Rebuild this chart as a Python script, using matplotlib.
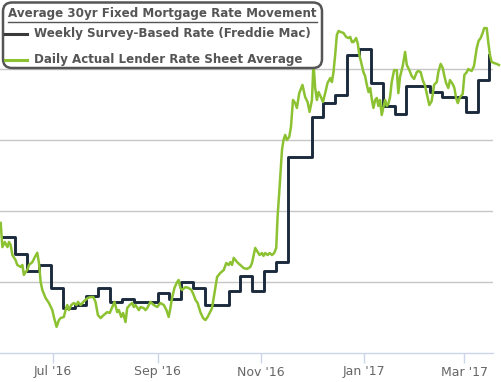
import numpy as np
import pandas as pd
import matplotlib
matplotlib.use("Agg")
import matplotlib.pyplot as plt
from matplotlib.patches import FancyBboxPatch
from matplotlib.lines import Line2D
from matplotlib.transforms import IdentityTransform

# weekly Freddie Mac survey rate (Thursdays)
weekly_start = "2016-06-02"
weekly_rate = [3.66, 3.60, 3.54, 3.56, 3.48, 3.41, 3.42, 3.45, 3.48, 3.43,
               3.44, 3.43, 3.43, 3.46, 3.44, 3.50, 3.48, 3.42, 3.42, 3.47,
               3.52, 3.47, 3.54, 3.57, 3.94, 3.94, 4.08, 4.13, 4.16, 4.30,
               4.32, 4.20, 4.12, 4.09, 4.19, 4.19, 4.17, 4.15, 4.15, 4.10,
               4.21, 4.30]

# daily lender rate sheet average: days after 2016-05-31, and rate
daily_origin = "2016-05-31"
daily_day = [0.4, 1.4, 2.8, 4.4, 5.3, 6.3, 7.3, 9.2, 10.2, 12.2,
             13.2, 14.1, 15.1, 16.1, 17.1, 19.1, 20.6, 22.0, 23.0, 24.0,
             25.0, 26.9, 28.9, 30.9, 31.8, 33.4, 34.8, 35.8, 37.7, 38.7,
             39.7, 40.7, 42.1, 43.6, 45.2, 46.0, 47.6, 49.2, 50.5, 51.9,
             53.5, 55.1, 56.4, 57.8, 59.4, 61.3, 63.3, 64.8, 66.3, 67.6,
             69.2, 70.2, 71.6, 72.7, 74.1,
             75.1, 76.6, 78.0, 79.0, 80.0, 82.0, 83.0, 84.9, 85.9, 86.9,
             88.8, 90.8, 92.8, 94.7, 96.7, 98.3, 99.6, 100.6, 101.6, 103.0,
             104.6, 105.5, 106.5, 107.5, 109.5, 111.4, 113.0, 114.4, 115.4, 116.7,
             118.3, 119.9, 121.3, 122.6, 123.8, 125.2, 126.2, 127.2, 128.2, 130.1,
             132.1, 133.6, 135.0, 136.0, 137.0, 138.0, 140.0, 141.9, 143.9, 145.9,
             147.8,
             148.8, 150.7, 152.1, 153.3, 154.7, 155.6, 156.6, 158.0, 159.2, 160.6,
             161.9, 163.1, 163.9, 165.1, 166.5, 167.4, 168.4, 169.4, 170.8, 171.8,
             173.0, 174.3, 175.3, 176.7, 178.6, 180.2, 181.6, 182.8, 184.2, 185.1,
             186.1, 187.1, 188.1, 189.5, 190.7, 192.0, 193.4, 195.0,
             196.0, 196.9, 197.9, 198.9, 199.9, 201.3, 202.8, 204.4, 205.8, 206.8,
             207.8, 208.7, 210.3, 211.3, 212.2, 213.2, 214.6, 215.6, 216.6, 217.6,
             218.6, 219.6, 220.5, 221.5, 222.5, 223.4, 224.4, 225.4, 226.4, 227.4,
             228.4, 229.3, 230.3, 231.3, 232.7, 234.3, 235.2, 236.2, 237.8, 239.2,
             240.2, 241.7, 243.1, 244.5, 246.1, 247.0, 248.4,
             249.6, 251.0, 252.3, 253.5, 254.9, 256.3, 257.9, 258.8, 260.2, 261.4,
             262.4, 263.4, 264.7, 265.7, 267.3, 268.3, 269.3, 270.3, 271.6, 273.2,
             274.2, 275.6, 276.5, 277.5, 278.5, 279.9, 281.5, 282.6, 283.8, 285.0,
             285.9, 287.4, 288.3, 289.3, 290.3, 291.7, 293.3, 294.6]
daily_rate = [3.708, 3.623, 3.641, 3.623, 3.641, 3.630, 3.595, 3.577, 3.560, 3.553,
              3.560, 3.525, 3.535, 3.542, 3.560, 3.570, 3.588, 3.603, 3.567, 3.500,
              3.472, 3.444, 3.426, 3.401, 3.377, 3.342, 3.366, 3.373, 3.377, 3.401,
              3.419, 3.401, 3.419, 3.426, 3.419, 3.430, 3.419, 3.430, 3.437, 3.444,
              3.447, 3.447, 3.430, 3.384, 3.373, 3.384, 3.394, 3.391, 3.412, 3.430,
              3.394, 3.401, 3.377, 3.391, 3.359,
              3.408, 3.419, 3.426, 3.412, 3.419, 3.401, 3.412, 3.408, 3.401, 3.408,
              3.430, 3.419, 3.412, 3.426, 3.419, 3.401, 3.377, 3.408, 3.444, 3.479,
              3.500, 3.507, 3.479, 3.472, 3.482, 3.479, 3.472, 3.454, 3.437, 3.426,
              3.394, 3.373, 3.366, 3.377, 3.391, 3.408, 3.444, 3.482, 3.518, 3.532,
              3.542, 3.567, 3.560, 3.570, 3.560, 3.585, 3.570, 3.560, 3.549, 3.546,
              3.553,
              3.567, 3.620, 3.606, 3.595, 3.602, 3.592, 3.602, 3.595, 3.602, 3.595,
              3.602, 3.620, 3.729, 3.835, 3.965, 4.000, 4.018, 4.000, 4.011, 4.046,
              4.141, 4.130, 4.113, 4.165, 4.194, 4.151, 4.134, 4.099, 4.141, 4.271,
              4.183, 4.141, 4.169, 4.151, 4.134, 4.165, 4.201, 4.218,
              4.204, 4.239, 4.299, 4.370, 4.384, 4.380, 4.377, 4.363, 4.359, 4.363,
              4.345, 4.345, 4.359, 4.338, 4.299, 4.275, 4.239, 4.225, 4.194, 4.169,
              4.183, 4.141, 4.113, 4.141, 4.148, 4.120, 4.141, 4.088, 4.116, 4.141,
              4.120, 4.127, 4.151, 4.204, 4.246, 4.246, 4.165, 4.222, 4.261, 4.310,
              4.264, 4.246, 4.225, 4.215, 4.239, 4.243, 4.239,
              4.211, 4.190, 4.155, 4.123, 4.137, 4.194, 4.204, 4.239, 4.268, 4.254,
              4.225, 4.201, 4.183, 4.211, 4.197, 4.183, 4.148, 4.130, 4.151, 4.162,
              4.229, 4.239, 4.250, 4.246, 4.243, 4.261, 4.324, 4.349, 4.359, 4.377,
              4.394, 4.394, 4.345, 4.299, 4.275, 4.271, 4.268, 4.264]

tick_dates = ["2016-07-01", "2016-09-01", "2016-11-01", "2017-01-01", "2017-03-01"]
tick_labels = ["Jul '16", "Sep '16", "Nov '16", "Jan '17", "Mar '17"]
grid_levels = [3.5, 3.75, 4.0, 4.25]

title = "Average 30yr Fixed Mortgage Rate Movement"
series_names = ["Weekly Survey-Based Rate (Freddie Mac)",
                "Daily Actual Lender Rate Sheet Average"]

navy = "#1b2b3d"
green = "#8cc231"
text_gray = "#555555"

W, H = 501, 382
fig = plt.figure(figsize=(W / 100, H / 100), dpi=100)
ax = fig.add_axes([0, 1 - 353 / H, 493 / W, 353 / H])

weekly_dates = pd.date_range(weekly_start, periods=len(weekly_rate), freq="7D")
daily_dates = pd.Timestamp(daily_origin) + pd.to_timedelta(daily_day, unit="D")

ax.step(weekly_dates, weekly_rate, where="post", color=navy, lw=2.1, zorder=3)
ax.plot(daily_dates, daily_rate, color=green, lw=1.8, zorder=4, clip_on=False)

origin = pd.Timestamp(daily_origin)
ax.set_xlim(origin, origin + pd.Timedelta(days=291.1))
ax.set_ylim(3.25, 4.493)

for lvl in grid_levels:
    ax.axhline(lvl, color="#c6c6c6", lw=1, zorder=1)

ax.set_xticks(pd.to_datetime(tick_dates))
ax.set_xticklabels(tick_labels)
ax.set_yticks([])
ax.tick_params(axis="x", length=7, width=1, color="#ccd6eb",
               labelcolor="#666666", labelsize=9, pad=2)
for side in ["left", "right", "top"]:
    ax.spines[side].set_visible(False)
ax.spines["bottom"].set_color("#ccd6eb")
ax.spines["bottom"].set_linewidth(1)

# legend box drawn in pixel coordinates (inches = px / 100)
def px(x, y):
    return x / 100, (H - y) / 100

box = FancyBboxPatch(px(3, 68), 3.19, 0.655,
                     boxstyle="round,pad=0,rounding_size=0.09",
                     transform=fig.dpi_scale_trans, facecolor="white",
                     edgecolor="#555555", lw=1.8, zorder=10)
fig.add_artist(box)

t = fig.text(*px(8, 14), title, transform=fig.dpi_scale_trans,
             fontsize=8.6, fontweight="bold", color=text_gray,
             va="center", ha="left", zorder=11)
for i, (name, col) in enumerate(zip(series_names, ["#3a3a3a", green])):
    yy = 34 + 26 * i
    x0, y0 = px(5, yy)
    x1, _ = px(27, yy)
    fig.add_artist(Line2D([x0, x1], [y0, y0], transform=fig.dpi_scale_trans,
                          color=col, lw=2.2, zorder=11))
    fig.text(*px(34, yy), name, transform=fig.dpi_scale_trans,
             fontsize=8.6, fontweight="bold", color=text_gray,
             va="center", ha="left", zorder=11)

# underline the legend title
fig.canvas.draw()
bb = t.get_window_extent()
fig.add_artist(Line2D([bb.x0, bb.x1], [bb.y0 - 1, bb.y0 - 1],
                      transform=IdentityTransform(), color=text_gray,
                      lw=1, zorder=11))

fig.savefig("out.png", dpi=100)
